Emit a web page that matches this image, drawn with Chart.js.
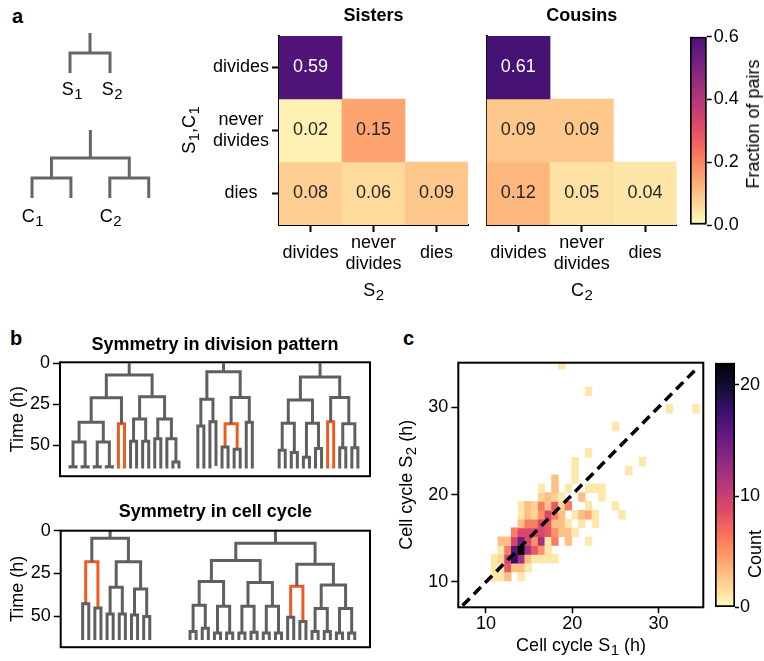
<!DOCTYPE html>
<html>
<head>
<meta charset="utf-8">
<script src="https://cdn.jsdelivr.net/npm/chart.js@4.4.1/dist/chart.umd.min.js"></script>
<style>
  body { margin: 0; background: #fff; }
  #fig { position: relative; width: 764px; height: 661px; overflow: hidden; font-family: 'Liberation Sans', Arial, sans-serif; color: #000; }
  #fig canvas, #fig .txt { position: absolute; }
  .tag { font-weight: bold; font-size: 20px; line-height: 1; }
  .side { font-size: 18px; line-height: 1; white-space: nowrap; transform: translate(-50%, -50%) rotate(-90deg); }
</style>
</head>
<body>
<div id="fig">
  <div class="txt tag" style="left:12px; top:6px">a</div>
  <div class="txt tag" style="left:10px; top:328px">b</div>
  <div class="txt tag" style="left:403px; top:328px">c</div>
  <canvas id="cartoonSis" width="80" height="80" style="left:50px; top:25px"></canvas>
  <canvas id="cartoonCou" width="160" height="110" style="left:10px; top:120px"></canvas>
  <canvas id="sisters" width="300" height="310" style="left:180px; top:0"></canvas>
  <canvas id="cousins" width="213" height="310" style="left:476px; top:0"></canvas>
  <canvas id="fracBar" width="74" height="240" style="left:690px; top:0"></canvas>
  <div class="txt side" style="left:753px; top:124px">Fraction of pairs</div>
  <canvas id="pattern" width="380" height="170" style="left:0; top:320px"></canvas>
  <canvas id="cycle" width="380" height="171" style="left:0; top:490px"></canvas>
  <canvas id="cycleHist" width="320" height="341" style="left:390px; top:320px"></canvas>
  <canvas id="countBar" width="49" height="341" style="left:715px; top:320px"></canvas>
  <div class="txt side" style="left:755px; top:554px">Count</div>
</div>
<script>
// ---- panel a: fate of pairs ----
const fates = ['divides', ['never', 'divides'], 'dies'];
const sisterRows = [
  [0.59, null, null],
  [0.02, 0.15, null],
  [0.08, 0.06, 0.09]
];
const cousinRows = [
  [0.61, null, null],
  [0.09, 0.09, null],
  [0.12, 0.05, 0.04]
];
const fracTicks = [0, 0.2, 0.4, 0.6];

// cartoon lineages: [division time, daughter, daughter], a number is where a branch stops
const sisterCartoon = [1, 2, 2];
const cousinCartoon = [1.4, [2.4, 3.4, 3.4], [2.4, 3.4, 3.4]];
const sisterTags = [['S', '1'], ['S', '2']];
const cousinTags = [['C', '1'], null, ['C', '2'], null];

// axis titles with subscripts: [text, isSubscript]
const sisterYTitle = [['S', 0], ['1', 1], [',C', 0], ['1', 1]];
const sisterXTitle = [['S', 0], ['2', 1]];
const cousinXTitle = [['C', 0], ['2', 1]];
const cycleXTitle = [['Cell cycle S', 0], ['1', 1], [' (h)', 0]];
const cycleYTitle = [['Cell cycle S', 0], ['2', 1], [' (h)', 0]];

// ---- panel b: example lineages, times in h; 4th entry 1 = highlighted daughter pair ----
const patternTrees = [
  [7.2,
    [20.9,
      [35.9, [47.9, [63, 64, 64], [63, 64, 64]], [47.9, [63, 64, 64], [63, 64, 64]]],
      [36.8, 64, 64, 1]],
    [20.3,
      [33.9, [47.5, 64, 64], [47.5, 64, 64]],
      [33.9, [45.9, 64, 64], [45.9, 64, [60.1, 64, 64]]]]],
  [5.2,
    [21.9, [38.2, 64, 64], [35.5, 64, 62.5]],
    [20.8, [36.8, [51, 64, 64], [52.3, 64, 64], 1], [35.9, 64, 64]]],
  [8.4,
    [22.3, [36.5, [52.9, 64, 64], [54.3, 64, 64]], [36.5, [57.2, 64, 64], [51.8, 64, 64]]],
    [20.8, [35.5, 64, 64, 1], [36.8, [51.4, 64, 64], [51.4, 64, 64]]]]
];
const cycleTrees = [
  [4.4,
    [18.2, [42.7, 64, 64], [45.2, 64, 64], 1],
    [18.2, [33.1, [48.8, 64, 64], [48.8, 64, 64]], [34.1, [49.4, 64, 64], [50.3, 64, 64]]]],
  [7.3,
    [17.4,
      [29.7, [43.7, [59, 64, 64], [57.1, 64, 64]], [44.3, [59.9, 64, 64], [59.9, 64, 64]]],
      [30.3, [44.3, [59.9, 64, 64], [59.5, 64, 64]], [44.3, [59.9, 64, 64], [59.9, 64, 64]]]],
    [19.7,
      [32.5, [50.7, 64, 64], [53.2, 64, 64], 1],
      [31.8, [45.6, [59, 64, 64], [59, 64, 64]], [45.6, [59.9, 64, 64], [59.9, 64, 64]]]]]
];
const timeTicks = [0, 25, 50];

// ---- panel c: sister cell cycle 2D histogram (bin centres in h, counts) ----
const histRowY = [10.635, 11.645, 12.655, 13.665, 14.675, 15.685, 16.695, 17.705, 18.715,
  19.725, 20.735, 21.745, 22.755, 23.765, 24.775, 27.805, 29.825, 31.845, 34.875];
const histRowX = [
  [10.995, 11.774, 12.553, 14.111],
  [10.995, 11.774, 12.553, 13.332, 14.111, 14.890],
  [10.995, 11.774, 12.553, 13.332, 14.111, 14.890, 15.669, 16.448, 17.227, 18.006],
  [11.774, 12.553, 13.332, 14.111, 14.890, 15.669, 16.448, 17.227],
  [11.774, 12.553, 13.332, 14.111, 14.890, 15.669, 16.448, 17.227, 18.006, 19.564, 21.901],
  [13.332, 14.111, 14.890, 15.669, 16.448, 17.227, 18.006, 18.785, 19.564, 20.343],
  [14.111, 14.890, 15.669, 16.448, 17.227, 18.006, 18.785, 19.564, 21.122, 22.680],
  [14.111, 14.890, 15.669, 16.448, 17.227, 18.006, 18.785, 20.343, 21.122, 21.901, 22.680, 25.796],
  [14.111, 14.890, 15.669, 16.448, 17.227, 18.006, 18.785, 19.564, 21.901, 25.017],
  [16.448, 17.227, 18.006, 18.785, 21.122, 23.459],
  [16.448, 18.006, 19.564, 21.901, 22.680, 23.459],
  [18.006, 20.343],
  [20.343, 26.575],
  [20.343, 28.133],
  [21.901],
  [25.017],
  [31.249, 34.365],
  [21.901],
  [18.785]
];
const histRowN = [
  [1, 1, 3, 1],
  [1, 1, 8, 3, 3, 1],
  [1, 2, 9, 18, 12, 3, 1, 1, 1, 1],
  [1, 6, 16, 22, 12, 8, 5, 1],
  [3, 3, 9, 15, 9, 5, 12, 1, 6, 3, 1],
  [6, 9, 9, 9, 9, 8, 5, 3, 3, 1],
  [3, 6, 6, 9, 8, 3, 3, 1, 1, 1],
  [1, 3, 2, 5, 9, 6, 3, 1, 3, 4, 1, 1],
  [1, 3, 2, 6, 3, 8, 2, 6, 1, 1],
  [2, 3, 2, 1, 3, 1],
  [1, 3, 1, 1, 1, 1],
  [3, 1],
  [1, 1],
  [1, 1],
  [1],
  [1],
  [1, 1],
  [1],
  [1]
];
const yBinHeight = 1.01;
const identityLine = [7.3, 34.6];
const cycleTicks = [10, 20, 30];
const countTicks = [0, 10, 20];

// layout: first leaf slot of each lineage in its box
const patternStarts = [1.65, 22.76, 36.2];
const cycleStarts = [3.6, 21.2];

const FONT = "'Liberation Sans', Arial, sans-serif";
const GRAY = '#5f5f5f';
const HOT = '#ef5b1f';
Chart.defaults.font.family = FONT;
Chart.defaults.font.size = 18;
Chart.defaults.color = '#000';
Chart.defaults.animation = false;
Chart.defaults.responsive = false;
Chart.defaults.events = [];
Chart.defaults.plugins.legend.display = false;
Chart.defaults.plugins.tooltip.enabled = false;

// magma colormap anchors
const MAGMA = ['#000004', '#140e36', '#3b0f70', '#641a80', '#8c2981', '#b73779',
  '#de4968', '#f7705c', '#fe9f6d', '#fecf92', '#fcfdbf'];
function hexRgb(h) {
  return [1, 3, 5].map(i => parseInt(h.slice(i, i + 2), 16));
}
function magma(t) {
  t = Math.min(1, Math.max(0, t)) * 10;
  const i = Math.min(9, Math.floor(t));
  const f = t - i;
  const a = hexRgb(MAGMA[i]), b = hexRgb(MAGMA[i + 1]);
  const c = a.map((v, k) => Math.round(v + (b[k] - v) * f));
  return `rgb(${c[0]},${c[1]},${c[2]})`;
}
const fracColor = v => magma(1 - v / 0.79);
const countColor = n => magma(1 - n / 22);

function rampFill(colorAt) {
  return (c) => {
    const area = c.chart.chartArea;
    if (!area) return null;
    const g = c.chart.ctx.createLinearGradient(0, area.bottom, 0, area.top);
    for (let k = 0; k <= 20; k++) g.addColorStop(k / 20, colorAt(k / 20));
    return g;
  };
}

// text with subscripts, centred on (cx, cy), optionally rotated
function richText(ctx, parts, cx, cy, rot) {
  ctx.save();
  ctx.translate(cx, cy);
  ctx.rotate(rot || 0);
  ctx.fillStyle = '#000';
  ctx.textAlign = 'left';
  ctx.textBaseline = 'middle';
  const fontOf = sub => `${sub ? 15 : 18}px ${FONT}`;
  const widths = parts.map(([t, sub]) => { ctx.font = fontOf(sub); return ctx.measureText(t).width; });
  let x = -widths.reduce((a, b) => a + b, 0) / 2;
  parts.forEach(([t, sub], i) => {
    ctx.font = fontOf(sub);
    ctx.fillText(t, x + (sub ? 0.5 : 0), sub ? 5 : 0);
    x += widths[i] + (sub ? 0.5 : 0);
  });
  ctx.restore();
}

// ---- plugins ----
const frame = w => ({
  id: 'frame',
  afterDatasetsDraw(chart) {
    const {ctx, chartArea: a} = chart;
    ctx.save();
    ctx.strokeStyle = '#000';
    ctx.lineWidth = w;
    ctx.strokeRect(a.left, a.top, a.width, a.height);
    ctx.restore();
  }
});

// axis titles: x title under the plot area at height xAt, y title left of it at yAt
const axisTitles = (xParts, xAt, yParts, yAt) => ({
  id: 'axisTitles',
  afterDraw(chart) {
    const a = chart.chartArea;
    if (xParts) richText(chart.ctx, xParts, (a.left + a.right) / 2, xAt);
    if (yParts) richText(chart.ctx, yParts, yAt, (a.top + a.bottom) / 2, -Math.PI / 2);
  }
});

const cellText = rows => ({
  id: 'cellText',
  afterDatasetsDraw(chart) {
    const {ctx} = chart;
    ctx.save();
    ctx.font = `18px ${FONT}`;
    ctx.textAlign = 'center';
    ctx.textBaseline = 'middle';
    rows.forEach((row, i) => {
      const bars = chart.getDatasetMeta(i).data;
      row.forEach((v, j) => {
        if (v === null) return;
        ctx.fillStyle = v > 0.4 ? '#fff' : '#262626';
        ctx.fillText(v.toFixed(2), bars[j].x, (bars[j].y + bars[j].base) / 2);
      });
    });
    ctx.restore();
  }
});

const leafTags = (tags, leaves, at, dx) => ({
  id: 'leafTags',
  afterDatasetsDraw(chart) {
    const {ctx, scales: {x, y}} = chart;
    tags.forEach((tag, i) => {
      if (tag) richText(ctx, [[tag[0], 0], [tag[1], 1]], x.getPixelForValue(leaves[i]) + dx, y.getPixelForValue(at));
    });
  }
});

// ---- lineage layout: leaves in consecutive slots, mother halfway between daughters ----
function placeNode(node, cursor, leaves) {
  if (typeof node === 'number') {
    const x = cursor.next++;
    leaves.push(x);
    return {x, t: node};
  }
  const a = placeNode(node[1], cursor, leaves);
  const b = placeNode(node[2], cursor, leaves);
  return {x: (a.x + b.x) / 2, t: node[0], kids: [a, b], hot: node[3] === 1};
}

function addBranches(n, gray, hot) {
  if (!n.kids) return;
  const [a, b] = n.kids;
  (n.hot ? hot : gray).push(
    {x: a.x, y: a.t}, {x: a.x, y: n.t}, {x: b.x, y: n.t}, {x: b.x, y: b.t}, {x: null, y: null});
  addBranches(a, gray, hot);
  addBranches(b, gray, hot);
}

function lineage(trees, starts) {
  const gray = [], hot = [], leaves = [];
  trees.forEach((tree, k) => {
    const root = placeNode(tree, {next: starts[k]}, leaves);
    gray.push({x: root.x, y: 0}, {x: root.x, y: root.t}, {x: null, y: null});
    addBranches(root, gray, hot);
  });
  return {gray, hot, leaves};
}

function topTitle(text, h, padTop) {
  return {
    type: 'linear', position: 'top', display: true,
    afterFit: s => { s.height = h; },
    ticks: {display: false}, grid: {display: false}, border: {display: false},
    title: {display: true, text, font: {weight: 'bold', size: 18}, padding: {top: padTop, bottom: 0}}
  };
}

function lineageChart(id, lin, o) {
  const line = (data, color) => ({
    data, borderColor: color, borderWidth: o.lw, showLine: true, pointRadius: 0,
    borderJoinStyle: 'miter', borderCapStyle: 'butt', spanGaps: false
  });
  const scales = {
    x: {display: false, min: o.x[0], max: o.x[1]},
    y: o.yAxis || {display: false, min: o.y[0], max: o.y[1], reverse: true}
  };
  if (o.title) scales.xTitle = topTitle(o.title, o.titleH, o.titlePad);
  const plugins = [];
  if (o.frame) plugins.push(frame(o.frame));
  if (o.tags) plugins.push(leafTags(o.tags, lin.leaves, o.tagAt, o.tagDx));
  return new Chart(document.getElementById(id), {
    type: 'scatter',
    data: {datasets: [line(lin.gray, o.color || GRAY), line(lin.hot, HOT)]},
    options: {layout: {padding: o.pad || 0}, scales},
    plugins
  });
}

function timeAxis(width, min, max) {
  return {
    type: 'linear', reverse: true, min, max,
    afterFit: s => { s.width = width; },
    afterBuildTicks: s => { s.ticks = timeTicks.map(v => ({value: v})); },
    border: {display: false},
    grid: {drawOnChartArea: false, tickLength: 7, tickWidth: 1.5, tickColor: '#000'},
    ticks: {padding: 3},
    title: {display: true, text: 'Time (h)', padding: {top: 7.5, bottom: 0}}
  };
}

// ---- panel a ----
lineageChart('cartoonSis', lineage([sisterCartoon], [0]), {
  x: [-0.5, 1.5], y: [-0.4, 3.6], lw: 3, color: '#666',
  tags: sisterTags, tagAt: 2.85, tagDx: 2
});
lineageChart('cartoonCou', lineage([cousinCartoon], [0]), {
  x: [-0.566, 3.547], y: [-0.5, 5], lw: 3, color: '#666',
  tags: cousinTags, tagAt: 4.35, tagDx: 0.5
});

function fateMap(id, rows, o) {
  return new Chart(document.getElementById(id), {
    type: 'bar',
    data: {
      labels: fates,
      datasets: rows.map((row, i) => ({
        data: row.map(v => v === null ? null : [i - 0.5, i + 0.5]),
        backgroundColor: row.map(v => v === null ? 'rgba(0,0,0,0)' : fracColor(v)),
        borderWidth: 0, barPercentage: 1, categoryPercentage: 1, grouped: false
      }))
    },
    options: {
      layout: {padding: {right: o.padRight}},
      scales: {
        x: {
          afterFit: s => { s.height = 85; },
          border: {color: '#000', width: 2},
          grid: {offset: false, drawOnChartArea: false, tickLength: 7, tickWidth: 2, tickColor: '#000'},
          ticks: {crossAlign: 'center', padding: 10.7, maxRotation: 0, autoSkip: false}
        },
        xTitle: topTitle(o.title, 36, 4.9),
        y: {
          min: -0.5, max: 2.5, reverse: true,
          afterFit: s => { s.width = o.yWidth; },
          afterBuildTicks: s => { s.ticks = fates.map((f, i) => ({value: i})); },
          border: {color: '#000', width: 2},
          grid: {drawOnChartArea: false, drawTicks: !!o.yTitle, tickLength: 7, tickWidth: 2, tickColor: '#000'},
          ticks: {display: !!o.yTitle, crossAlign: 'center', padding: 3, callback: v => fates[v]}
        }
      }
    },
    plugins: [cellText(rows), axisTitles(o.xTitle, 291, o.yTitle, 10)]
  });
}
fateMap('sisters', sisterRows, {title: 'Sisters', xTitle: sisterXTitle, yTitle: sisterYTitle, yWidth: 99, padRight: 12});
fateMap('cousins', cousinRows, {title: 'Cousins', xTitle: cousinXTitle, yTitle: null, yWidth: 10.7, padRight: 12.3});

function rampBar(id, max, ticks, colorAt, o) {
  return new Chart(document.getElementById(id), {
    type: 'bar',
    data: {
      labels: [''],
      datasets: [{
        data: [[0, max]], backgroundColor: rampFill(colorAt), borderColor: '#000', borderWidth: 2,
        borderSkipped: false, barPercentage: 1, categoryPercentage: 1
      }]
    },
    options: {
      layout: {padding: o.pad},
      scales: {
        x: {display: false},
        y: {
          position: 'right', min: 0, max,
          afterFit: s => { s.width = o.width; },
          afterBuildTicks: s => { s.ticks = ticks.map(v => ({value: v})); },
          border: {display: false},
          grid: {drawOnChartArea: false, tickLength: o.tl, tickWidth: 1.5, tickColor: '#000'},
          ticks: {padding: o.tp, callback: o.fmt}
        }
      }
    }
  });
}
rampBar('fracBar', 0.6, fracTicks, s => fracColor(0.6 * s),
  {pad: {top: 36.7, bottom: 15}, width: 57.3, tl: 5, tp: 2, fmt: v => v.toFixed(1)});

// ---- panel b ----
lineageChart('pattern', lineage(patternTrees, patternStarts), {
  x: [0, 51.2], lw: 3, frame: 2, pad: {right: 10, bottom: 9},
  yAxis: timeAxis(60, -0.6, 68.7),
  title: 'Symmetry in division pattern', titleH: 42.3, titlePad: 14.2
});
lineageChart('cycle', lineage(cycleTrees, cycleStarts), {
  x: [0, 50.7], lw: 3, frame: 2, pad: {right: 10, bottom: 11.7},
  yAxis: timeAxis(60.7, 0, 68.2),
  title: 'Symmetry in cell cycle', titleH: 40.7, titlePad: 10.9
});

// ---- panel c ----
const cells = [], cellColors = [];
histRowY.forEach((y, r) => {
  histRowX[r].forEach((x, k) => {
    cells.push({x, y: [y - yBinHeight / 2, y + yBinHeight / 2]});
    cellColors.push(countColor(histRowN[r][k]));
  });
});

new Chart(document.getElementById('cycleHist'), {
  type: 'bar',
  data: {
    datasets: [
      {
        type: 'line', data: identityLine.map(v => ({x: v, y: v})), borderColor: '#000',
        borderWidth: 3.5, borderDash: [10, 6], pointRadius: 0, order: 0
      },
      {data: cells, backgroundColor: cellColors, borderWidth: 0, barPercentage: 1, categoryPercentage: 1, order: 1}
    ]
  },
  options: {
    layout: {padding: {top: 42.7, right: 6.7}},
    scales: {
      x: {
        type: 'linear', min: 6.8, max: 35.2, offset: false,
        afterFit: s => { s.height = 53.7; },
        afterBuildTicks: s => { s.ticks = cycleTicks.map(v => ({value: v})); },
        border: {display: false},
        grid: {offset: false, drawOnChartArea: false, tickLength: 6, tickWidth: 1.5, tickColor: '#000'},
        ticks: {padding: 0}
      },
      y: {
        type: 'linear', min: 7.1, max: 35.1,
        afterFit: s => { s.width = 68.3; },
        afterBuildTicks: s => { s.ticks = cycleTicks.map(v => ({value: v})); },
        border: {display: false},
        grid: {drawOnChartArea: false, tickLength: 7, tickWidth: 1.5, tickColor: '#000'},
        ticks: {padding: 3}
      }
    }
  },
  plugins: [frame(2), axisTitles(cycleXTitle, 326, cycleYTitle, 17)]
});

rampBar('countBar', 22, countTicks, s => countColor(22 * s),
  {pad: {top: 42.7, bottom: 53.7}, width: 29, tl: 4, tp: 1, fmt: v => v});
</script>
</body>
</html>
